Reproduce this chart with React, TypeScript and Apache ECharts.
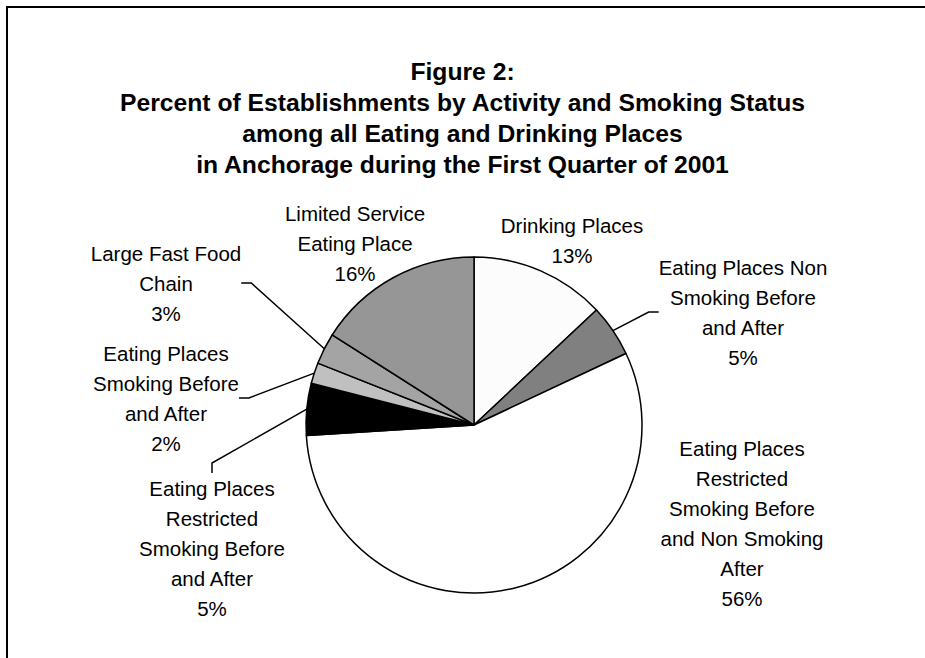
import React, { useEffect, useRef } from "react";
import * as echarts from "echarts";

const titleLines = [
  "Figure 2:",
  "Percent of Establishments by Activity and Smoking Status",
  "among all Eating and Drinking Places",
  "in Anchorage during the First Quarter of 2001",
];

const categories = [
  "Drinking Places",
  "Eating Places Non Smoking Before and After",
  "Eating Places Restricted Smoking Before and Non Smoking After",
  "Eating Places Restricted Smoking Before and After",
  "Eating Places Smoking Before and After",
  "Large Fast Food Chain",
  "Limited Service Eating Place",
];

const labelTexts = [
  "Drinking Places",
  "Eating Places Non\nSmoking Before\nand After",
  "Eating Places\nRestricted\nSmoking Before\nand Non Smoking\nAfter",
  "Eating Places\nRestricted\nSmoking Before\nand After",
  "Eating Places\nSmoking Before\nand After",
  "Large Fast Food\nChain",
  "Limited Service\nEating Place",
];

const percents = [13, 5, 56, 5, 2, 3, 16];

const sliceColors = ["#fcfcfc", "#808080", "#ffffff", "#000000", "#c0c0c0", "#a4a4a4", "#969696"];
const hasLeader = [false, true, false, true, true, true, false];
// label block centres (x, y) in pixels
const labelCenters: number[][] = [
  [572, 240],
  [743, 312],
  [742, 523],
  [212, 548],
  [166, 398],
  [166, 283],
  [355, 243],
];

export default function App() {
  const ref = useRef<HTMLDivElement>(null);
  useEffect(() => {
    if (!ref.current) return;
    const chart = echarts.init(ref.current, undefined, { renderer: "svg" });
    const font = "'Liberation Sans', Arial, sans-serif";
    chart.setOption({
      animation: false,
      backgroundColor: "#ffffff",
      title: {
        text: titleLines.join("\n"),
        left: "center",
        top: 56,
        padding: 0,
        textStyle: {
          fontFamily: font,
          fontWeight: "bold",
          fontSize: 24.7,
          lineHeight: 31,
          color: "#000",
        },
      },
      graphic: [
        {
          type: "polyline",
          silent: true,
          shape: { points: [[7, 700], [7, 7], [960, 7]] },
          style: { fill: "none", stroke: "#000", lineWidth: 2 },
        },
      ],
      series: [
        {
          type: "pie",
          center: [474, 425],
          radius: 168,
          startAngle: 90,
          clockwise: true,
          silent: true,
          avoidLabelOverlap: false,
          emphasis: { disabled: true },
          itemStyle: { borderColor: "#000", borderWidth: 1.5 },
          label: {
            show: true,
            position: "outside",
            color: "#000",
            fontFamily: font,
            fontSize: 20.5,
            lineHeight: 30,
            overflow: "none",
            formatter: (p: any) => labelTexts[p.dataIndex] + "\n" + p.value + "%",
          },
          labelLine: {
            show: true,
            length: 20,
            length2: 10,
            smooth: false,
            lineStyle: { color: "#000", width: 1.5 },
          },
          labelLayout: (p: any) => {
            const c = labelCenters[p.dataIndex];
            return { x: c[0], y: c[1], align: "center", verticalAlign: "middle" };
          },
          data: categories.map((name, i) => ({
            name,
            value: percents[i],
            itemStyle: { color: sliceColors[i] },
            labelLine: { show: hasLeader[i] },
          })),
        },
      ],
    });
    return () => chart.dispose();
  }, []);
  return (
    <div
      ref={ref}
      style={{ position: "fixed", left: 0, top: 0, width: 925, height: 658 }}
    />
  );
}
